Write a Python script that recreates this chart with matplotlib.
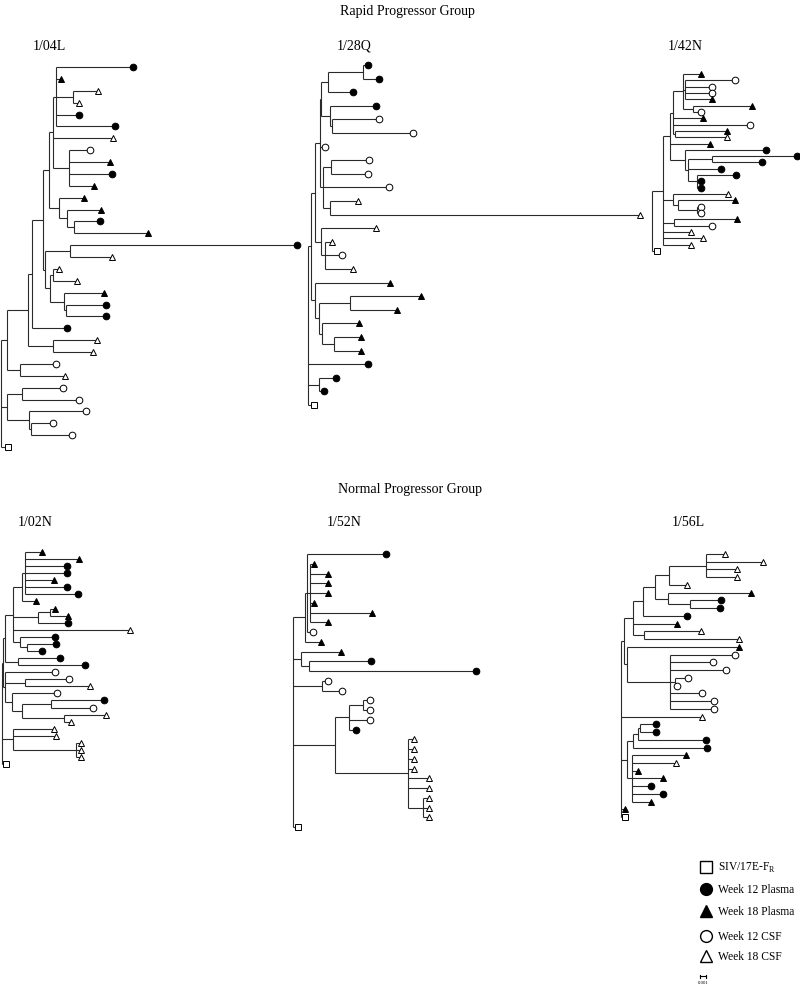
import matplotlib
matplotlib.use("Agg")
import matplotlib.pyplot as plt
from matplotlib.collections import LineCollection

plt.rcParams['font.family'] = ['Liberation Serif', 'DejaVu Serif']
plt.rcParams['mathtext.fontset'] = 'custom'
plt.rcParams['mathtext.rm'] = 'Liberation Serif'

# branch lengths in drawing units, 6 units = 0.001 substitutions/site (scale bar)
# leaf names: P12 week 12 plasma, P18 week 18 plasma, C12 week 12 CSF,
# C18 week 18 CSF, REF = SIV/17E-Fr
tree_04L = ("((((((((P12:77,P18:5,(C18:25,C18:6):17,P12:23,P12:59):3,C18:60,"
            "(C12:21,P18:41,P12:43,P18:25):16):4,(P18:25,(P18:34,(P12:26,P18:74):7):8):10):6,"
            "((P12:227,C18:42):25,((C18:6,C18:24):3,(P18:40,(P12:40,P12:40):2):14):5):2):11,"
            "P12:35):4,(C18:44,C18:40):25):21,(C12:36,C18:45):13):6,"
            "((C12:41,C12:57):15,(C12:57,(C12:22,C12:41):2):22):6,REF:7);")

tree_28Q = ("(((((((P12:5,P12:16):35,P12:25):7,(P12:46,(C12:47,C12:81):2):9):1,C12:5,"
            "((C12:38,C12:37):8,C12:66,(C18:28,C18:310):7):3):5,"
            "(C18:55,(C18:7,C12:17,C18:28):4):6):4,"
            "(P18:75,((P18:71,P18:47):31,(P18:37,(P18:27,P18:27):12):3):4):4):3,"
            "P12:60,(P12:17,P12:5):11,REF:6);")

tree_42N = ("(((((P18:18,(C12:50,C12:27,C12:27,P18:27):2,(P18:59,C12:8):10):10,"
            "P18:30,C12:77,(P18:52,C18:52):2):3,P18:40,"
            "(P12:81,((P12:85,P12:50):24,P12:33,(P12:39,P12:4,P12:4):9):3):15):7,"
            "(C18:55,(P18:57,(C12:4,C12:4):19):5):10,(P18:63,C12:38):11,"
            "C18:28,C18:40,C18:28):11,REF:5);")

tree_02N = ("((((((P18:17,P18:54,P12:42,P12:42,P18:29,P12:42,P12:53):3,P18:14):9,"
            "((P18:5,P18:18):12,P12:30):25,C18:117,(P12:35,(P12:29,P12:15):7):7):8,"
            "(P12:42,P12:67):13):2,(C12:50,(C12:44,C18:65):20,"
            "(C12:45,((P12:53,C12:42):29,(C18:42,C18:7):42):10):7):2):1,"
            "(C18:41,C18:43,(C18:5,C18:5,C18:5):63):11,REF:4);")

tree_52N = ("(((P12:79,(P18:4,P18:18,P18:18,P18:18,P18:4,P18:62,P18:18):3,C12:6):2,P18:16):12,"
            "(P18:40,(P12:62,P12:167):8):8,(C12:6,C12:20):29,"
            "(((C12:7,C12:7):14,C12:21,P12:7):14,"
            "(C18:6,C18:6,C18:6,C18:6,C18:21,C18:21,(C18:6,C18:6,C18:6):15):73):42,REF:5);")

tree_56L = ("(((((((C18:19,C18:57,C18:31,C18:31):37,C18:18):14,"
            "(P18:83,(P12:31,P12:30):22):13):12,P12:44):10,P18:44,(C18:57,C18:95):11):9,"
            "(P18:112,(C12:65,C12:43,C12:56,(C12:13,C12:2):5,C12:32,C12:44,C12:44):43):3):3,"
            "C18:81,((((P12:16,P12:16):2,P12:68):5,P12:74):6,"
            "(P18:54,C18:44,P18:6,P18:31,P12:19,P12:31,P18:19):5):6,P18:4,REF:4);")

tree_names = ["1/04L", "1/28Q", "1/42N", "1/02N", "1/52N", "1/56L"]
trees = [tree_04L, tree_28Q, tree_42N, tree_02N, tree_52N, tree_56L]

legend_keys = ["REF", "P12", "P18", "C12", "C18"]
legend_labels = ["SIV/17E-F$_\\mathregular{R}$", "Week 12 Plasma", "Week 18 Plasma",
                 "Week 12 CSF", "Week 18 CSF"]

styles = {
    "P12": dict(marker="o", mfc="black", mec="black"),
    "P18": dict(marker="^", mfc="black", mec="black"),
    "C12": dict(marker="o", mfc="white", mec="black"),
    "C18": dict(marker="^", mfc="white", mec="black"),
    "REF": dict(marker="s", mfc="white", mec="black"),
}


def parse_newick(s):
    pos = 0

    def node():
        nonlocal pos
        kids = []
        if s[pos] == "(":
            pos += 1
            while True:
                kids.append(node())
                if s[pos] == ",":
                    pos += 1
                    continue
                pos += 1
                break
        start = pos
        while s[pos] not in ":,);":
            pos += 1
        name = s[start:pos]
        blen = 0.0
        if s[pos] == ":":
            pos += 1
            start = pos
            while s[pos] not in ",);":
                pos += 1
            blen = float(s[start:pos])
        return {"name": name, "len": blen, "kids": kids}

    return node()


def draw_tree(ax, newick, x0, y0, dy):
    root = parse_newick(newick)
    segs = []
    tips = []
    count = [0]

    def walk(n, px):
        x = px + n["len"]
        if not n["kids"]:
            y = y0 + dy * count[0]
            count[0] += 1
            tips.append((x, y, n["name"]))
        else:
            ys = [walk(c, x) for c in n["kids"]]
            y = (ys[0] + ys[-1]) / 2
            segs.append([(x, ys[0]), (x, ys[-1])])
        if n["len"] > 0:
            segs.append([(px, y), (x, y)])
        return y

    walk(root, x0)
    ax.add_collection(LineCollection(segs, colors="#2a2a2a", linewidths=0.8, zorder=1))
    for x, y, kind in tips:
        ax.plot(x, y, linestyle="none", ms=4.8, mew=0.7, zorder=3, **styles[kind])


fig = plt.figure(figsize=(8, 9.87), dpi=100)
ax = fig.add_axes([0, 0, 1, 1])
ax.set_xlim(0, 800)
ax.set_ylim(987, 0)
ax.axis("off")

# root x, first leaf y, leaf spacing for each panel
origins = [(1, 68, 11.875), (308, 66, 13.6), (652, 75, 6.32),
           (2, 553, 7.07), (293, 555, 9.75), (621, 555, 7.74)]
label_pos = [(33, 46), (337, 46), (668, 46), (18, 522), (327, 522), (672, 522)]

for nw, (x0, y0, dy) in zip(trees, origins):
    draw_tree(ax, nw, x0, y0, dy)

for name, (lx, ly) in zip(tree_names, label_pos):
    ax.text(lx, ly, name, fontsize=10, ha="left", va="center")

ax.text(407, 12, "Rapid Progressor Group", fontsize=10, ha="center", va="center")
ax.text(410, 490, "Normal Progressor Group", fontsize=10, ha="center", va="center")

# legend
for i, (key, lab) in enumerate(zip(legend_keys, legend_labels)):
    ly = [868, 890, 912, 937, 957][i]
    ax.plot(706, ly, linestyle="none", ms=8.5, mew=1.0, **styles[key])
    ax.text(718, ly, lab, fontsize=8.3, ha="left", va="center")

# scale bar
ax.plot([700, 706], [977, 977], color="black", lw=0.8)
ax.plot([700, 700], [975.5, 978.5], color="black", lw=0.8)
ax.plot([706, 706], [975.5, 978.5], color="black", lw=0.8)
ax.text(703, 983, "0.001", fontsize=3.5, ha="center", va="center")

fig.savefig("out.png", dpi=100)
